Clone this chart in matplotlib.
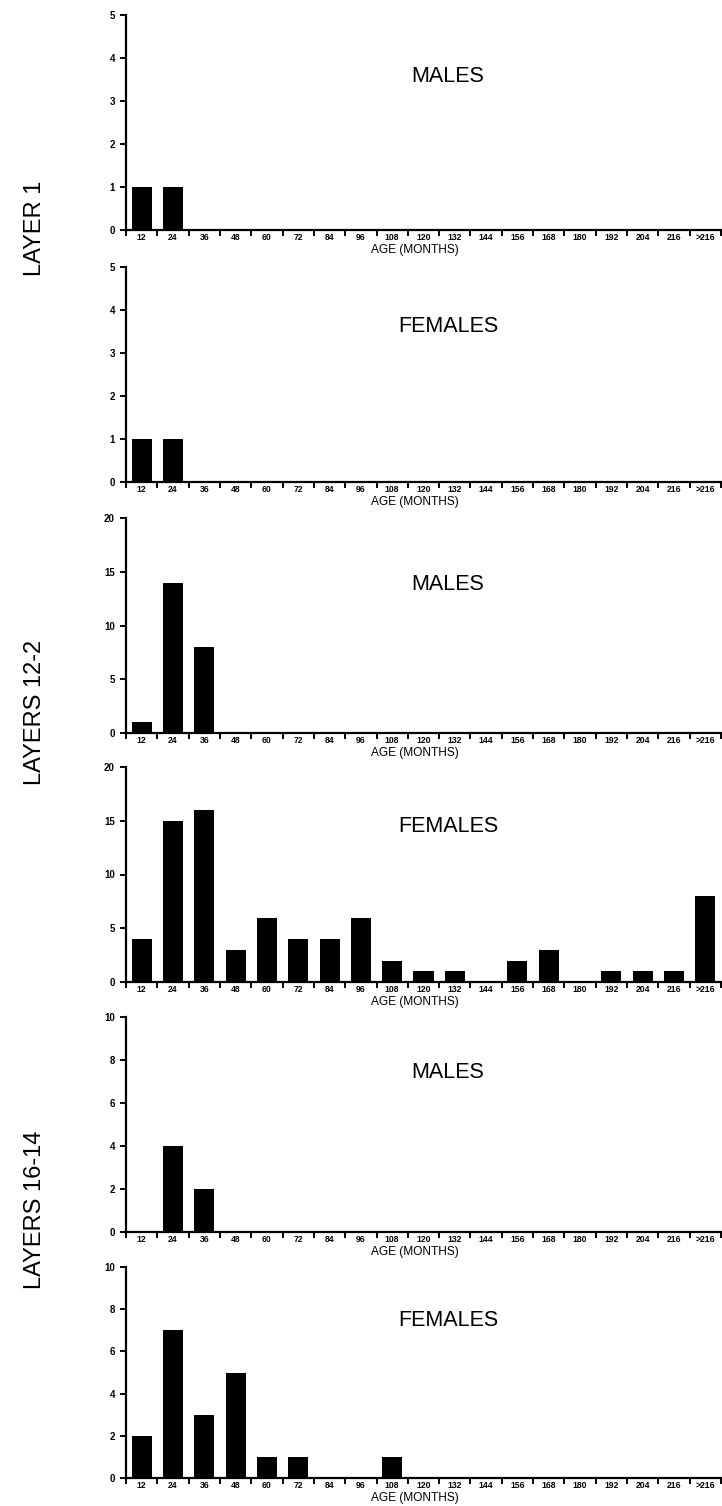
import matplotlib
matplotlib.use("Agg")
import matplotlib.pyplot as plt
from matplotlib import font_manager
import numpy as np

categories = ["12", "24", "36", "48", "60", "72", "84", "96", "108", "120", "132",
              "144", "156", "168", "180", "192", "204", "216", ">216"]

layer1_males   = [1, 1, 0, 0, 0, 0, 0, 0, 0, 0, 0, 0, 0, 0, 0, 0, 0, 0, 0]
layer1_females = [1, 1, 0, 0, 0, 0, 0, 0, 0, 0, 0, 0, 0, 0, 0, 0, 0, 0, 0]
layer12_males  = [1, 14, 8, 0, 0, 0, 0, 0, 0, 0, 0, 0, 0, 0, 0, 0, 0, 0, 0]
layer12_females = [4, 15, 16, 3, 6, 4, 4, 6, 2, 1, 1, 0, 2, 3, 0, 1, 1, 1, 8]
layer16_males  = [0, 4, 2, 0, 0, 0, 0, 0, 0, 0, 0, 0, 0, 0, 0, 0, 0, 0, 0]
layer16_females = [2, 7, 3, 5, 1, 1, 0, 0, 1, 0, 0, 0, 0, 0, 0, 0, 0, 0, 0]

panel_values = [layer1_males, layer1_females, layer12_males, layer12_females,
                layer16_males, layer16_females]
panel_sex = ["MALES", "FEMALES", "MALES", "FEMALES", "MALES", "FEMALES"]
panel_ymax = [5, 5, 20, 20, 10, 10]
panel_ystep = [1, 1, 5, 5, 2, 2]
group_labels = ["LAYER 1", "LAYERS 12-2", "LAYERS 16-14"]

available = {f.name for f in font_manager.fontManager.ttflist}
has_narrow = "Liberation Sans Narrow" in available
narrow = "Liberation Sans Narrow" if has_narrow else "Liberation Sans"
main_font = "Liberation Sans"
plt.rcParams['font.family'] = [main_font, 'DejaVu Sans']

W, H = 722, 1506
fig = plt.figure(figsize=(W / 100, H / 100), dpi=100)

tops = [15, 267, 518, 767, 1017, 1267]
bottoms = [230, 482, 733, 982, 1232, 1478]
label_y = [76, 326, 584, 826, 1072, 1320]
x_left, x_right = 126, 721

n = len(categories)
x = np.arange(n)
for i in range(6):
    t, b = tops[i], bottoms[i]
    ax = fig.add_axes([x_left / W, 1 - b / H, (x_right - x_left) / W, (b - t) / H])
    ax.bar(x, panel_values[i], width=0.64, color="black", edgecolor="black", linewidth=0)
    ax.set_xlim(-0.5, n - 0.5)
    ax.set_ylim(0, panel_ymax[i])
    for s in ["top", "right"]:
        ax.spines[s].set_visible(False)
    for s in ["left", "bottom"]:
        ax.spines[s].set_linewidth(1.6)
    yt = np.arange(0, panel_ymax[i] + 0.01, panel_ystep[i])
    ax.set_yticks(yt)
    ax.set_yticklabels([str(int(v)) for v in yt], fontsize=7, fontweight="bold")
    ax.tick_params(axis="y", direction="out", length=4, width=1.4, pad=4)
    ax.set_xticks(x)
    ax.set_xticklabels(categories, fontsize=7.2 if has_narrow else 6.2, fontweight="bold",
                       family=[narrow, 'DejaVu Sans'])
    ax.tick_params(axis="x", which="major", length=0, pad=2.5)
    ax.set_xticks(np.arange(-0.5, n, 1.0), minor=True)
    ax.tick_params(axis="x", which="minor", direction="out", length=4, width=1.4)
    ax.text((415 - x_left) / (x_right - x_left), -0.093, "AGE (MONTHS)", transform=ax.transAxes,
            ha="center", va="center", fontsize=8.6)
    ly = (b - label_y[i]) / (b - t)
    ax.text((448 - x_left) / (x_right - x_left), ly, panel_sex[i], transform=ax.transAxes,
            ha="center", va="center", fontsize=15.5)

group_centers = [228, 712, 1210]
for lab, yc in zip(group_labels, group_centers):
    fig.text(35 / W, 1 - yc / H, lab, rotation=90, ha="center", va="center",
             fontsize=19 if has_narrow else 17, family=[narrow, 'DejaVu Sans'])

fig.savefig("out.png", dpi=100, facecolor="white")
